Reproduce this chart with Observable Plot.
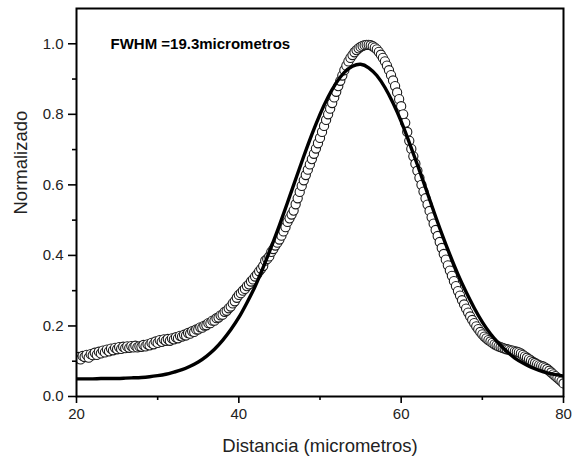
<!DOCTYPE html>
<html>
<head>
<meta charset="utf-8">
<script src="https://cdn.jsdelivr.net/npm/d3@7"></script>
<script src="https://cdn.jsdelivr.net/npm/@observablehq/plot@0.6"></script>
<style>
  html, body { margin: 0; padding: 0; background: #fff; }
  svg { font-family: Arial, "Liberation Sans", sans-serif; }
</style>
</head>
<body>
<div id="chart"></div>
<script>
// Measured profile (circles), sampled every 0.25 micrometres from 20 to 80
const dataStart = 20;
const dataStep = 0.25;
const dataValues = [
  0.108, 0.112, 0.105, 0.115,
  0.112, 0.118, 0.110, 0.120,
  0.117, 0.124, 0.118, 0.127,
  0.122, 0.130, 0.125, 0.133,
  0.128, 0.136, 0.131, 0.138,
  0.134, 0.140, 0.135, 0.141,
  0.137, 0.142, 0.138, 0.143,
  0.139, 0.144, 0.139, 0.142,
  0.141, 0.146, 0.142, 0.148,
  0.145, 0.152, 0.148, 0.156,
  0.152, 0.160, 0.155, 0.162,
  0.158, 0.163, 0.158, 0.165,
  0.162, 0.168, 0.165, 0.172,
  0.170, 0.175, 0.173, 0.180,
  0.178, 0.185, 0.183, 0.190,
  0.190, 0.196, 0.195, 0.201,
  0.202, 0.208, 0.208, 0.215,
  0.215, 0.222, 0.224, 0.230,
  0.232, 0.240, 0.243, 0.250,
  0.255, 0.264, 0.270, 0.280,
  0.288, 0.293, 0.300, 0.305,
  0.313, 0.318, 0.326, 0.332,
  0.340, 0.346, 0.355, 0.362,
  0.370, 0.385, 0.390, 0.397,
  0.410, 0.418, 0.428, 0.436,
  0.445, 0.456, 0.468, 0.480,
  0.495, 0.505, 0.516, 0.527,
  0.545, 0.562, 0.580, 0.597,
  0.613, 0.628, 0.643, 0.658,
  0.673, 0.688, 0.703, 0.718,
  0.733, 0.750, 0.767, 0.784,
  0.800, 0.816, 0.832, 0.848,
  0.864, 0.880, 0.895, 0.910,
  0.925, 0.938, 0.950, 0.960,
  0.968, 0.976, 0.982, 0.987,
  0.991, 0.994, 0.996, 0.997,
  0.997, 0.996, 0.993, 0.989,
  0.984, 0.977, 0.969, 0.960,
  0.950, 0.938, 0.925, 0.911,
  0.896, 0.880, 0.862, 0.843,
  0.823, 0.800, 0.776, 0.750,
  0.725, 0.702, 0.681, 0.660,
  0.640, 0.620, 0.600, 0.581,
  0.562, 0.544, 0.526, 0.508,
  0.490, 0.472, 0.455, 0.438,
  0.421, 0.404, 0.388, 0.372,
  0.357, 0.342, 0.327, 0.313,
  0.299, 0.286, 0.273, 0.261,
  0.249, 0.238, 0.227, 0.217,
  0.208, 0.199, 0.191, 0.183,
  0.176, 0.170, 0.165, 0.160,
  0.156, 0.152, 0.148, 0.145,
  0.142, 0.140, 0.138, 0.136,
  0.134, 0.133, 0.131, 0.130,
  0.128, 0.127, 0.125, 0.122,
  0.118, 0.114, 0.110, 0.106,
  0.102, 0.098, 0.095, 0.092,
  0.089, 0.087, 0.085, 0.082,
  0.078, 0.073, 0.068, 0.063,
  0.058, 0.053, 0.048, 0.043,
  0.037
];

// Fitted curve (thick black line), sampled every 1 micrometre from 20 to 80
const fitStart = 20;
const fitStep = 1;
const fitValues = [
  0.050, 0.050, 0.050, 0.051, 0.051, 0.051, 0.052, 0.053, 0.054, 0.056,
  0.059, 0.063, 0.069, 0.076, 0.086, 0.098, 0.114, 0.134, 0.159, 0.189,
  0.224, 0.266, 0.312, 0.366, 0.424, 0.485, 0.550, 0.616, 0.681, 0.743,
  0.800, 0.849, 0.889, 0.919, 0.936, 0.942, 0.932, 0.910, 0.876, 0.832,
  0.780, 0.720, 0.657, 0.592, 0.526, 0.462, 0.402, 0.346, 0.296, 0.251,
  0.211, 0.178, 0.151, 0.128, 0.109, 0.095, 0.083, 0.074, 0.067, 0.062,
  0.058
];

const xTicks = [20, 40, 60, 80];
const xMinorTicks = [30, 50, 70];
const yTicks = [0, 0.2, 0.4, 0.6, 0.8, 1.0];
const yMinorTicks = [0.1, 0.3, 0.5, 0.7, 0.9];

const xTitle = "Distancia (micrometros)";
const yTitle = "Normalizado";
const note = "FWHM =19.3micrometros";

const measured = dataValues.map((v, i) => ({x: dataStart + i * dataStep, y: v}));
const fit = fitValues.map((v, i) => ({x: fitStart + i * fitStep, y: v}));

const ink = "#222";

const chart = Plot.plot({
  width: 573,
  height: 457,
  marginLeft: 76,
  marginRight: 10,
  marginTop: 8,
  marginBottom: 61,
  style: {fontFamily: "Arial, 'Liberation Sans', sans-serif", background: "white"},
  x: {domain: [20, 80]},
  y: {domain: [0, 1.1]},
  marks: [
    Plot.dot(measured, {x: "x", y: "y", r: 4.6, fill: "white", stroke: "#1a1a1a", strokeWidth: 1.1, clip: true}),
    Plot.line(fit, {x: "x", y: "y", stroke: "black", strokeWidth: 3.4, curve: "natural", clip: true}),
    Plot.axisX({ticks: xTicks, tickSize: 7, tickPadding: 5, tickFormat: d => String(d), fontSize: 15, fill: ink, stroke: "black", strokeWidth: 1.6, label: null}),
    Plot.axisX({ticks: xMinorTicks, tickSize: 4, stroke: "black", strokeWidth: 1.6, text: null, label: null}),
    Plot.axisY({ticks: yTicks, tickSize: 8, tickPadding: 5, tickFormat: d3.format(".1f"), fontSize: 15, fill: ink, stroke: "black", strokeWidth: 1.6, label: null}),
    Plot.axisY({ticks: yMinorTicks, tickSize: 4, stroke: "black", strokeWidth: 1.6, text: null, label: null}),
    Plot.frame({stroke: "black", strokeWidth: 2}),
    Plot.text([xTitle], {frameAnchor: "bottom", lineAnchor: "middle", dy: 50, fontSize: 18.5, fill: ink}),
    Plot.text([yTitle], {frameAnchor: "left", lineAnchor: "middle", rotate: -90, dx: -55, dy: 12, fontSize: 18.5, fill: ink}),
    Plot.text([note], {frameAnchor: "top-left", textAnchor: "start", lineAnchor: "middle", dx: 34, dy: 36, fontSize: 15, fontWeight: "bold", fill: "black"})
  ]
});

document.getElementById("chart").appendChild(chart);
</script>
</body>
</html>
